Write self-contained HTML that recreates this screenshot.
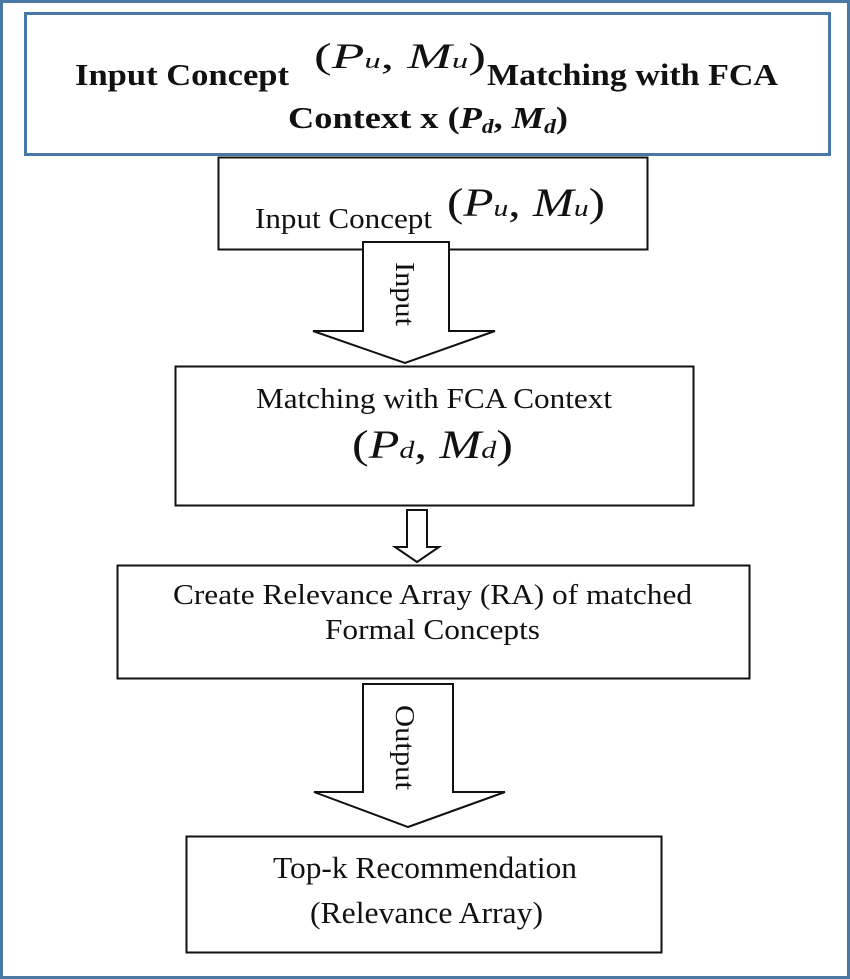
<!DOCTYPE html>
<html><head><style>html,body{margin:0;padding:0;background:#fff}svg{display:block}</style></head>
<body>
<svg width="850" height="979" viewBox="0 0 850 979" xmlns="http://www.w3.org/2000/svg" font-family="'Liberation Serif', serif" fill="#111">
<rect x="1.5" y="1.5" width="847" height="976" fill="#fff" stroke="#4a77a3" stroke-width="3"/>
<rect x="25.5" y="13.5" width="804" height="141" fill="#fff" stroke="#4a77a3" stroke-width="3"/>
<text x="75" y="85" font-size="31" font-weight="bold" textLength="214" lengthAdjust="spacingAndGlyphs">Input Concept</text>
<text x="314" y="68" font-size="36" textLength="172" lengthAdjust="spacingAndGlyphs">(<tspan font-style="italic">P</tspan><tspan font-style="italic" font-size="22">u</tspan>, <tspan font-style="italic">M</tspan><tspan font-style="italic" font-size="22">u</tspan>)</text>
<text x="487" y="85" font-size="31" font-weight="bold" textLength="291" lengthAdjust="spacingAndGlyphs">Matching with FCA</text>
<text x="288" y="128" font-size="31" font-weight="bold" textLength="280" lengthAdjust="spacingAndGlyphs">Context x (<tspan font-style="italic">P</tspan><tspan font-style="italic" font-size="20" dy="5">d</tspan><tspan dy="-5">, </tspan><tspan font-style="italic">M</tspan><tspan font-style="italic" font-size="20" dy="5">d</tspan><tspan dy="-5">)</tspan></text>

<rect x="218.5" y="157.5" width="429" height="92" fill="#fff" stroke="#111" stroke-width="2"/>
<text x="255" y="228" font-size="28" textLength="177" lengthAdjust="spacingAndGlyphs">Input Concept</text>
<text x="447" y="216" font-size="40" textLength="158" lengthAdjust="spacingAndGlyphs">(<tspan font-style="italic">P</tspan><tspan font-style="italic" font-size="24">u</tspan>, <tspan font-style="italic">M</tspan><tspan font-style="italic" font-size="24">u</tspan>)</text>

<polygon points="363,242 449,242 449,331 495,331 405,363 313,331 363,331" fill="#fff" stroke="#111" stroke-width="2"/>
<text transform="translate(396,262) rotate(90)" font-size="27" textLength="64" lengthAdjust="spacingAndGlyphs">Input</text>

<rect x="175.5" y="366.5" width="518" height="139" fill="#fff" stroke="#111" stroke-width="2"/>
<text x="256" y="408" font-size="28" textLength="356" lengthAdjust="spacingAndGlyphs">Matching with FCA Context</text>
<text x="352" y="458" font-size="40" textLength="161" lengthAdjust="spacingAndGlyphs">(<tspan font-style="italic">P</tspan><tspan font-style="italic" font-size="24">d</tspan>, <tspan font-style="italic">M</tspan><tspan font-style="italic" font-size="24">d</tspan>)</text>

<polygon points="407,510 427,510 427,547 439,547 417,562 395,547 407,547" fill="#fff" stroke="#111" stroke-width="2"/>

<rect x="117.5" y="565.5" width="632" height="113" fill="#fff" stroke="#111" stroke-width="2"/>
<text x="173" y="604" font-size="28" textLength="519" lengthAdjust="spacingAndGlyphs">Create Relevance Array (RA) of matched</text>
<text x="325" y="639" font-size="28" textLength="215" lengthAdjust="spacingAndGlyphs">Formal Concepts</text>

<polygon points="363,684 453,684 453,792 505,792 408,827 314,792 363,792" fill="#fff" stroke="#111" stroke-width="2"/>
<text transform="translate(396,705) rotate(90)" font-size="27" textLength="85" lengthAdjust="spacingAndGlyphs">Output</text>

<rect x="186.5" y="836.5" width="475" height="116" fill="#fff" stroke="#111" stroke-width="2"/>
<text x="273" y="878" font-size="31" textLength="304" lengthAdjust="spacingAndGlyphs">Top-k Recommendation</text>
<text x="310" y="923" font-size="31" textLength="233" lengthAdjust="spacingAndGlyphs">(Relevance Array)</text>
</svg>
</body></html>
